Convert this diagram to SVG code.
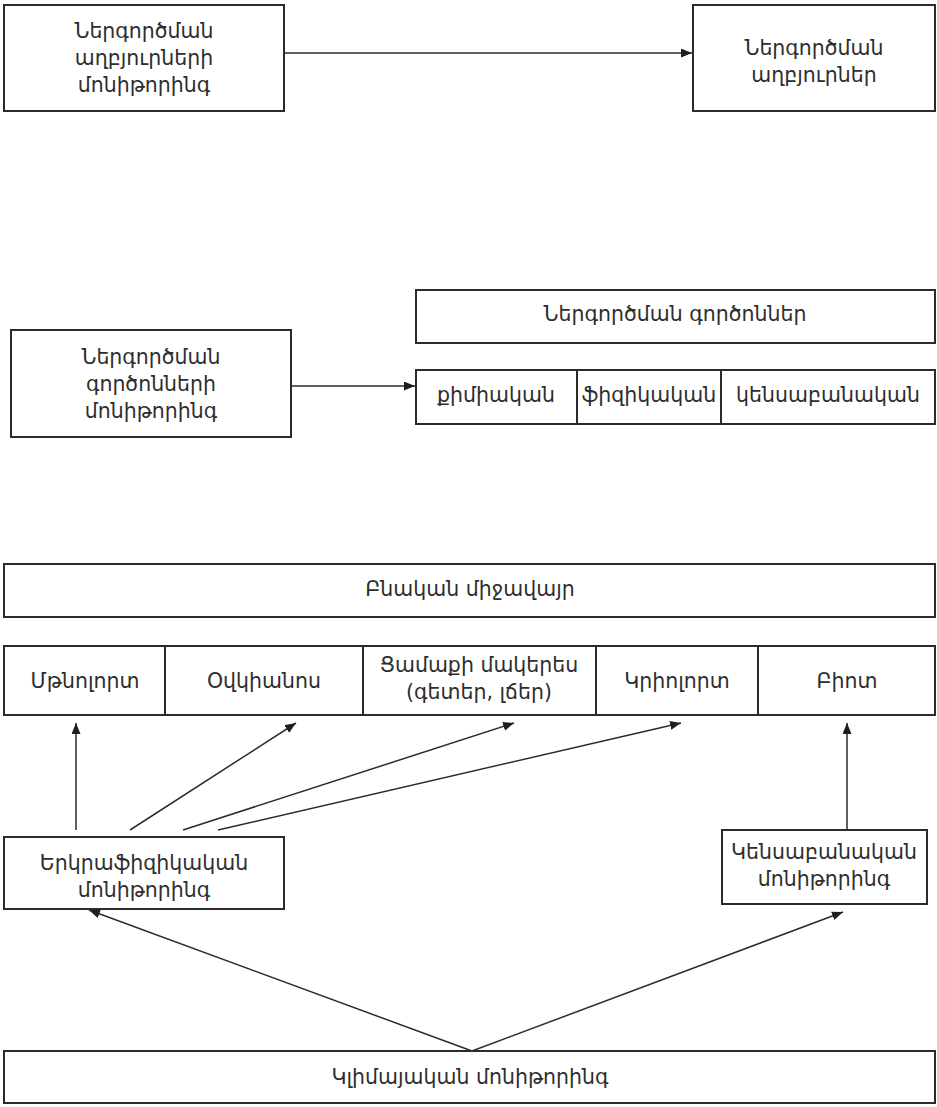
<svg xmlns="http://www.w3.org/2000/svg" width="937" height="1107" viewBox="0 0 937 1107">
<style>
.box{fill:#fff;stroke:#2b2b2b;stroke-width:2}
.div{stroke:#2b2b2b;stroke-width:2}
.t{font-family:"DejaVu Sans","Noto Sans",sans-serif;font-size:20.5px;fill:#2e2e2e;text-anchor:middle}
.c{stroke:#2b2b2b;stroke-width:1.5;fill:none;marker-end:url(#ah)}
</style>
<defs>
<marker id="ah" markerUnits="userSpaceOnUse" markerWidth="12" markerHeight="10" refX="11" refY="4.5" orient="auto">
<path d="M0,0 L11,4.5 L0,9 z" fill="#1e1e1e"/>
</marker>
</defs>
<rect width="937" height="1107" fill="#fff"/>
<g id="connectors">
<line class="c" x1="284" y1="53" x2="692" y2="53"/>
<line class="c" x1="291" y1="386" x2="415" y2="386"/>
<line class="c" x1="76" y1="830" x2="76" y2="723"/>
<line class="c" x1="130" y1="830" x2="296" y2="723"/>
<line class="c" x1="183" y1="830" x2="514" y2="723"/>
<line class="c" x1="218" y1="830" x2="681" y2="723"/>
<line class="c" x1="847" y1="830" x2="847" y2="723"/>
<line class="c" x1="472" y1="1051" x2="89" y2="910"/>
<line class="c" x1="472" y1="1051" x2="843" y2="912"/>
</g>
<g id="src-monitoring">
<rect class="box" x="4" y="5" width="280" height="106"/>
<text class="t" x="144" y="38">Ներգործման</text>
<text class="t" x="144" y="65">աղբյուրների</text>
<text class="t" x="144" y="92">մոնիթորինգ</text>
</g>
<g id="sources">
<rect class="box" x="693" y="5" width="242" height="106"/>
<text class="t" x="814" y="55">Ներգործման</text>
<text class="t" x="814" y="82">աղբյուրներ</text>
</g>
<g id="factor-monitoring">
<rect class="box" x="11" y="330" width="280" height="107"/>
<text class="t" x="151" y="364">Ներգործման</text>
<text class="t" x="151" y="391">գործոնների</text>
<text class="t" x="151" y="418">մոնիթորինգ</text>
</g>
<g id="factors">
<rect class="box" x="416" y="290" width="519" height="53"/>
<text class="t" x="675" y="321">Ներգործման գործոններ</text>
</g>
<g id="factor-types">
<rect class="box" x="416" y="370" width="519" height="54"/>
<line class="div" x1="577" y1="370" x2="577" y2="424"/>
<line class="div" x1="721" y1="370" x2="721" y2="424"/>
<text class="t" x="496" y="402">քիմիական</text>
<text class="t" x="649" y="402">ֆիզիկական</text>
<text class="t" x="828" y="402">կենսաբանական</text>
</g>
<g id="environment">
<rect class="box" x="4" y="564" width="931" height="53"/>
<text class="t" x="470" y="596">Բնական միջավայր</text>
</g>
<g id="spheres">
<rect class="box" x="4" y="646" width="931" height="69"/>
<line class="div" x1="165" y1="646" x2="165" y2="715"/>
<line class="div" x1="363" y1="646" x2="363" y2="715"/>
<line class="div" x1="596" y1="646" x2="596" y2="715"/>
<line class="div" x1="758" y1="646" x2="758" y2="715"/>
<text class="t" x="85" y="688">Մթնոլորտ</text>
<text class="t" x="264" y="688">Օվկիանոս</text>
<text class="t" x="479" y="672">Ցամաքի մակերես</text>
<text class="t" x="479" y="699">(գետեր, լճեր)</text>
<text class="t" x="677" y="688">Կրիոլորտ</text>
<text class="t" x="847" y="688">Բիոտ</text>
</g>
<g id="geophysical">
<rect class="box" x="4" y="837" width="280" height="72"/>
<text class="t" x="144" y="870">Երկրաֆիզիկական</text>
<text class="t" x="144" y="897">մոնիթորինգ</text>
</g>
<g id="biological">
<rect class="box" x="722" y="830" width="205" height="74"/>
<text class="t" x="824" y="859">Կենսաբանական</text>
<text class="t" x="824" y="886">մոնիթորինգ</text>
</g>
<g id="climate">
<rect class="box" x="4" y="1051" width="931" height="52"/>
<text class="t" x="470" y="1084">Կլիմայական մոնիթորինգ</text>
</g>
</svg>
